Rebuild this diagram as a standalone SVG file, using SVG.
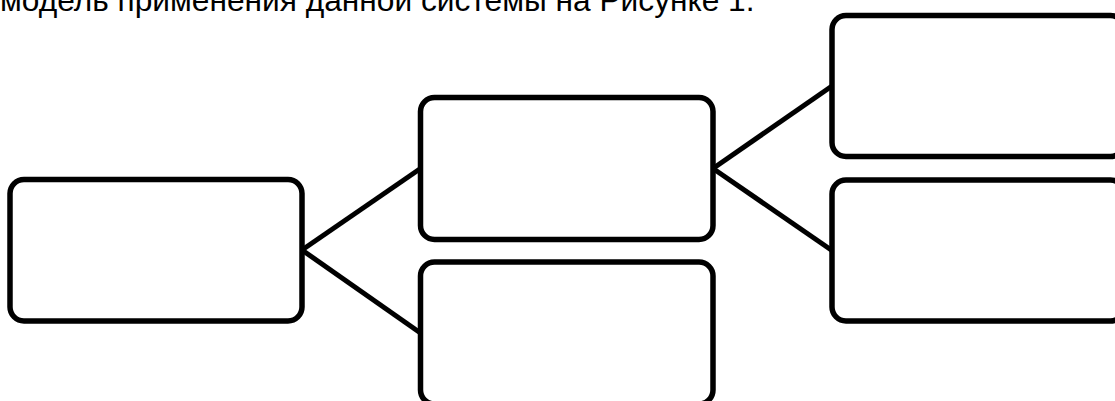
<svg xmlns="http://www.w3.org/2000/svg" width="1115" height="401" viewBox="0 0 1115 401">
<style>
.box{fill:#fff;stroke:#000;stroke-width:5.5}
.conn{stroke:#000;stroke-width:5;fill:none}
.cap{font-family:"Liberation Sans",Arial,sans-serif;font-size:31.7px;fill:#000}
</style>
<rect width="1115" height="401" fill="#fff"/>
<text class="cap" x="0" y="11">модель применения данной системы на Рисунке 1.</text>
<g id="connectors">
<line class="conn" x1="302" y1="250" x2="420.5" y2="168.5"/>
<line class="conn" x1="302" y1="250" x2="420.5" y2="333"/>
<line class="conn" x1="713" y1="168.5" x2="832" y2="86"/>
<line class="conn" x1="713" y1="168.5" x2="832" y2="250.5"/>
</g>
<g id="node-a"><rect class="box" x="10" y="179.5" width="292" height="141.5" rx="14"/></g>
<g id="node-b"><rect class="box" x="420.5" y="97.5" width="292.5" height="142" rx="14"/></g>
<g id="node-c"><rect class="box" x="420.5" y="262" width="292.5" height="142" rx="14"/></g>
<g id="node-d"><rect class="box" x="832" y="15.5" width="292.5" height="141" rx="14"/></g>
<g id="node-e"><rect class="box" x="832" y="180" width="292.5" height="141" rx="14"/></g>
</svg>
